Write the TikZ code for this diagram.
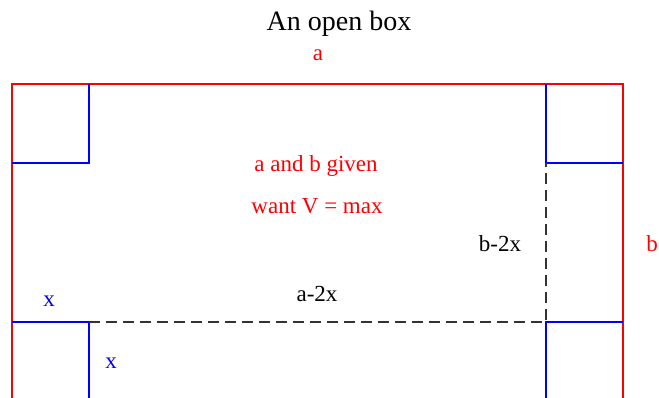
\documentclass[tikz,border=0pt]{standalone}
\usepackage{fontspec}
\setmainfont{Liberation Serif}
\usetikzlibrary{positioning}

\begin{document}
\begin{tikzpicture}[x=1pt, y=1pt, outer/.style={draw=red, line width=1.4pt}, cut/.style={draw=blue, line width=1.8pt}, fold/.style={draw=black!80, line width=2.2pt, dash pattern=on 11pt off 6pt}, every node/.style={font=\fontsize{23}{27}\selectfont, inner sep=0pt}]
  \useasboundingbox (0,0) rectangle (659,397);
  \clip (0,0) rectangle (659,397);
  % sheet corners and cut corners
  \coordinate (sheetTL) at (12,313);
  \coordinate (sheetTR) at (623,313);
  \coordinate (sheetBL) at (12,-20);
  \coordinate (sheetBR) at (623,-20);
  \coordinate (cutTL) at (89,234);
  \coordinate (cutTR) at (546,234);
  \coordinate (cutBL) at (89,75);
  \coordinate (cutBR) at (546,75);
  \draw[outer] (sheetBL) -- (sheetTL) -- (sheetTR) -- (sheetBR);
  \draw[cut] (cutTL |- sheetTL) -- (cutTL) -- (cutTL -| sheetTL);
  \draw[cut] (cutTR |- sheetTR) -- (cutTR) -- (cutTR -| sheetTR);
  \draw[cut] (cutBL -| sheetBL) -- (cutBL) -- (cutBL |- sheetBL);
  \draw[cut] (cutBR -| sheetBR) -- (cutBR) -- (cutBR |- sheetBR);
  \draw[fold] (cutBL) -- (cutBR) -- (cutTR);
  % labels
  \node[font=\fontsize{28}{32}\selectfont] (title) at (339,373) {An open box};
  \node[text=red] (sideA) at (318,342) {a};
  \node[text=red] (sideB) at (652,153) {b};
  \node[text=red] (given) at (316,231) {a and b given};
  \node[text=red] (want) at (317,191) {want V = max};
  \node (baseA) at (317,103) {a-2x};
  \node (baseB) at (500,153) {b-2x};
  \node[text=blue] (xTop) at (49,96) {x};
  \node[text=blue] (xSide) at (111,34) {x};
\end{tikzpicture}
\end{document}
